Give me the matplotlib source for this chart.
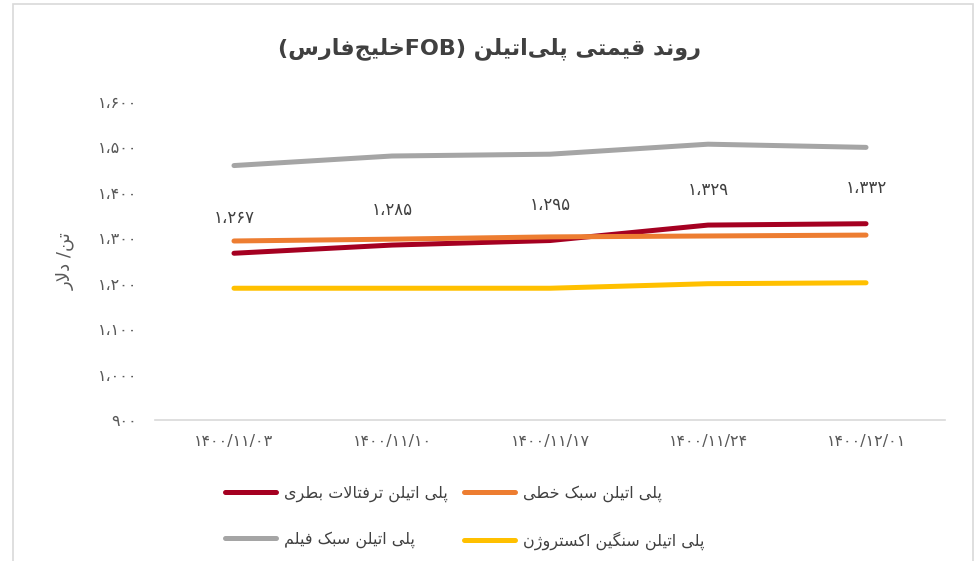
import matplotlib
matplotlib.use("Agg")
import matplotlib.pyplot as plt
from matplotlib.patches import Rectangle

# Polyethylene price trend (FOB Persian Gulf), USD per tonne

dates = ['1400/11/03', '1400/11/10', '1400/11/17', '1400/11/24', '1400/12/01']
pet_bottle = [1267, 1285, 1295, 1329, 1332]
lldpe = [1294, 1298, 1303, 1305, 1307]
ldpe_film = [1460, 1481, 1485, 1507, 1500]
hdpe_extrusion = [1190, 1190, 1190, 1200, 1202]

name_pet = 'پلی اتیلن ترفتالات بطری'
name_lldpe = 'پلی اتیلن سبک خطی'
name_ldpe = 'پلی اتیلن سبک فیلم'
name_hdpe = 'پلی اتیلن سنگین اکستروژن'
title_a = 'روند قیمتی پلی‌اتیلن'
title_b = 'خلیج‌فارس'
ylabel = 'تن/ دلار'
yticks = [900, 1000, 1100, 1200, 1300, 1400, 1500, 1600]

# Arabic shaping by hand (matplotlib has no text shaping): forms are
# isolated, final, initial, medial; two-form letters only join to the right.
FORMS = {
    'ا': ('\uFE8D', '\uFE8E'),
    'ب': ('\uFE8F', '\uFE90', '\uFE91', '\uFE92'),
    'پ': ('\uFB56', '\uFB57', '\uFB58', '\uFB59'),
    'ت': ('\uFE95', '\uFE96', '\uFE97', '\uFE98'),
    'ج': ('\uFE9D', '\uFE9E', '\uFE9F', '\uFEA0'),
    'خ': ('\uFEA5', '\uFEA6', '\uFEA7', '\uFEA8'),
    'د': ('\uFEA9', '\uFEAA'),
    'ر': ('\uFEAD', '\uFEAE'),
    'ژ': ('\uFB8A', '\uFB8B'),
    'س': ('\uFEB1', '\uFEB2', '\uFEB3', '\uFEB4'),
    'ط': ('\uFEC1', '\uFEC2', '\uFEC3', '\uFEC4'),
    'ف': ('\uFED1', '\uFED2', '\uFED3', '\uFED4'),
    'ق': ('\uFED5', '\uFED6', '\uFED7', '\uFED8'),
    'ک': ('\uFB8E', '\uFB8F', '\uFB90', '\uFB91'),
    'گ': ('\uFB92', '\uFB93', '\uFB94', '\uFB95'),
    'ل': ('\uFEDD', '\uFEDE', '\uFEDF', '\uFEE0'),
    'م': ('\uFEE1', '\uFEE2', '\uFEE3', '\uFEE4'),
    'ن': ('\uFEE5', '\uFEE6', '\uFEE7', '\uFEE8'),
    'و': ('\uFEED', '\uFEEE'),
    'ی': ('\uFBFC', '\uFBFD', '\uFBFE', '\uFBFF'),
}


def shape(text):
    out = []
    i = 0
    n = len(text)
    while i < n:
        c = text[i]
        if c not in FORMS:
            if c != '\u200c':
                out.append(c)
            i += 1
            continue
        prev = text[i - 1] if i > 0 else ''
        joins_prev = prev in FORMS and len(FORMS[prev]) == 4
        nxt = text[i + 1] if i + 1 < n else ''
        if c == 'ل' and nxt == 'ا':
            out.append('\uFEFC' if joins_prev else '\uFEFB')
            i += 2
            continue
        joins_next = len(FORMS[c]) == 4 and nxt in FORMS
        f = FORMS[c]
        if joins_prev and joins_next:
            out.append(f[3])
        elif joins_prev:
            out.append(f[1])
        elif joins_next:
            out.append(f[2])
        else:
            out.append(f[0])
        i += 1
    return ''.join(out)[::-1]


def fa(s):
    return str(s).translate(str.maketrans('0123456789,', '۰۱۲۳۴۵۶۷۸۹،'))


def fa_num(v):
    return fa(f'{int(v):,}')


fig = plt.figure(figsize=(9.79, 5.61), dpi=100)
ax = fig.add_axes([0.1583, 0.2513, 0.807, 0.567])

x = range(len(dates))
ax.plot(x, pet_bottle, color='#A50021', lw=3.6, solid_capstyle='round', label=shape(name_pet))
ax.plot(x, ldpe_film, color='#A5A5A5', lw=3.6, solid_capstyle='round', label=shape(name_ldpe))
ax.plot(x, lldpe, color='#ED7D31', lw=3.6, solid_capstyle='round', label=shape(name_lldpe))
ax.plot(x, hdpe_extrusion, color='#FFC000', lw=3.6, solid_capstyle='round', label=shape(name_hdpe))

for xi, v in zip(x, pet_bottle):
    ax.annotate(fa_num(v), (xi, v), xytext=(0, 19), textcoords='offset points',
                ha='center', va='bottom', fontsize=12, color='#404040')

ax.set_xlim(-0.5, len(dates) - 0.5)
ax.set_ylim(900, 1600)
ax.set_yticks(yticks)
ax.set_yticklabels([fa_num(v) for v in yticks])
ax.set_xticks(list(x))
ax.set_xticklabels([fa(d) for d in dates])
ax.tick_params(length=0, labelsize=11.5, colors='#595959')
ax.tick_params(axis='y', pad=13)
ax.tick_params(axis='x', pad=10)
for s in ['top', 'right', 'left']:
    ax.spines[s].set_visible(False)
ax.spines['bottom'].set_color('#D9D9D9')
ax.spines['bottom'].set_linewidth(1.2)

ax.set_ylabel(shape(ylabel), fontsize=13, color='#595959', labelpad=16)

title = '(' + shape(title_b) + 'FOB) ' + shape(title_a)
fig.text(0.5, 0.914, title, ha='center', va='center', fontsize=16,
         fontweight='bold', color='#404040')

fig.legend(loc='center', bbox_to_anchor=(0.475, 0.078), ncol=2, frameon=False,
           fontsize=11.5, handlelength=3.2, labelspacing=1.85, columnspacing=1.0,
           handletextpad=0.5, labelcolor='#404040')

fig.add_artist(Rectangle((13 / 979, -0.05), 960 / 979, 1.05 - 3.5 / 561,
                         transform=fig.transFigure, fill=False,
                         edgecolor='#D9D9D9', lw=1.2))

fig.savefig('out.png', dpi=100)
